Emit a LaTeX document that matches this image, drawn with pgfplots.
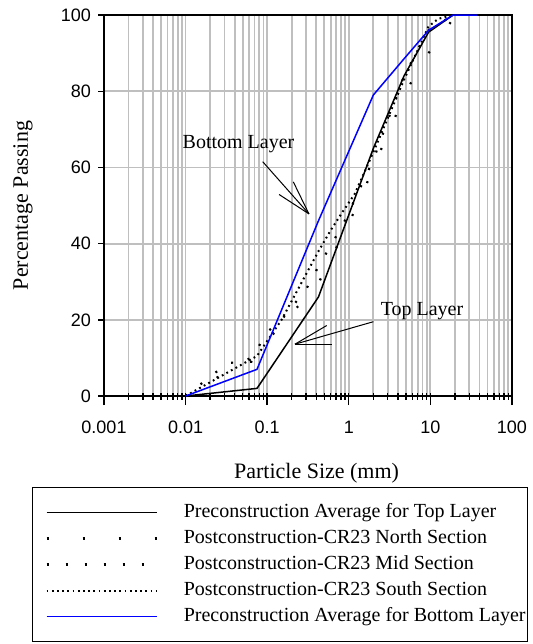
\documentclass[border=0pt]{standalone}
\usepackage{pgfplots}
\pgfplotsset{compat=1.18}
\usepackage{fontspec}
\setmainfont{Liberation Serif}
\newfontfamily\arialfont{Liberation Sans}
\begin{document}
\begin{tikzpicture}
\path[use as bounding box] (0pt,0pt) rectangle (266pt,-322pt);
\begin{axis}[
  at={(52pt,-198pt)}, anchor=south west,
  scale only axis, width=204pt, height=190.5pt,
  xmode=log, log basis x=10,
  xmin=0.001, xmax=100, ymin=0, ymax=100,
  xtick={0.001,0.01,0.1,1,10,100},
  xticklabels={0.001,0.01,0.1,1,10,100},
  minor xtick={0.002,0.003,0.004,0.005,0.006,0.007,0.008,0.009,
               0.02,0.03,0.04,0.05,0.06,0.07,0.08,0.09,
               0.2,0.3,0.4,0.5,0.6,0.7,0.8,0.9,
               2,3,4,5,6,7,8,9,
               20,30,40,50,60,70,80,90},
  extra x ticks={0.001,0.01,0.1,1,10,100},
  extra x tick labels={},
  extra x tick style={xtick align=outside, major tick length=4.5pt, xmajorgrids=false},
  ytick={0,20,40,60,80,100},
  tick pos=left,
  xtick align=center, ytick align=outside,
  major tick length=3pt, minor tick length=3.5pt,
  xmajorgrids, xminorgrids, ymajorgrids,
  grid style={draw=black!25, line width=0.9pt},
  minor grid style={draw=black!25, line width=0.9pt},
  axis line style={line width=0.75pt},
  tick style={black, line width=0.7pt},
  ticklabel style={font=\arialfont\fontsize{9}{10}\selectfont},
  xticklabel style={yshift=-7.5pt},
  /pgf/number format/assume math mode=true,
  xlabel={Particle Size (mm)},
  ylabel={Percentage Passing},
  label style={font=\fontsize{11}{12}\selectfont},
  xlabel style={at={(axis description cs:0.521,-0.202)}, anchor=center},
  ylabel style={at={(axis description cs:-0.1985,0.5)}, anchor=center},
  clip=false,
  legend image code/.code={\path (0pt,-1.6pt); \draw[#1] (5.5pt,0pt) -- (60.5pt,0pt);},
  legend style={
    at={(axis description cs:-0.1765,-0.2388)}, anchor=north west,
    draw=black, line width=0.6pt,
    font=\fontsize{10}{12}\selectfont,
    nodes={inner sep=0pt, text height=7pt, text depth=2pt},
    inner xsep=1pt, inner ysep=8pt,
    row sep=4pt, column sep=13pt,
  },
  legend cell align=left,
]
% Preconstruction average, top layer
\addplot[black, line width=0.75pt] coordinates {
 (0.01,0) (0.075,2) (0.425,26) (2,65) (4.75,84) (9.5,95.5) (19,100) (37.5,100)};
% North section
\addplot[black, line width=1.1pt, dash pattern=on 1pt off 17pt] coordinates {
 (0.01,0) (0.075,11) (0.15,19) (0.25,24) (0.425,29.6) (0.85,42.4) (1.37,51.4)
 (2.09,61) (3.36,71.1) (5.12,80.3) (9.5,90) (19,99) (25,100)};
% Mid section
\addplot[black, line width=1.1pt, dash pattern=on 1pt off 8.5pt] coordinates {
 (0.01,0) (0.033,8.7) (0.064,9) (0.094,16.3) (0.15,20) (0.3,28) (0.425,34)
 (0.85,45) (2,62) (4.75,84) (9.5,96) (19,100)};
% South section
\addplot[black, line width=1pt, dash pattern=on 0.9pt off 1.7pt] coordinates {
 (0.01,0) (0.075,10.5) (0.15,20) (0.3,32) (0.425,38) (0.6,43.5) (0.85,48.5)
 (1.18,53) (2,64) (4.75,83) (9.5,97) (12.5,99) (19,100)};
% Preconstruction average, bottom layer
\addplot[blue, line width=0.75pt] coordinates {
 (0.01,0) (0.075,7) (0.425,46) (2,79) (4.75,88.5) (9.5,96) (19,100) (37.5,100)};
\legend{Preconstruction Average for Top Layer,
        Postconstruction-CR23 North Section,
        Postconstruction-CR23 Mid Section,
        Postconstruction-CR23 South Section,
        Preconstruction Average for Bottom Layer}
% annotations
\draw[black, line width=0.5pt] (axis cs:0.0881,61.5) -- (axis cs:0.325,47.8);
\draw[black, line width=0.5pt] (axis cs:0.209,56.2) -- (axis cs:0.325,47.8);
\draw[black, line width=0.5pt] (axis cs:0.1397,52.9) -- (axis cs:0.325,47.8);
\node[inner sep=0pt, font=\fontsize{10}{12}\selectfont] at (axis cs:0.0445,66.1) {Bottom Layer};
\draw[black, line width=0.5pt] (axis cs:2.0,19.5) -- (axis cs:0.219,13.6);
\draw[black, line width=0.5pt] (axis cs:0.536,18.5) -- (axis cs:0.219,13.6);
\draw[black, line width=0.5pt] (axis cs:0.616,13.6) -- (axis cs:0.219,13.6);
\node[inner sep=0pt, font=\fontsize{10}{12}\selectfont] at (axis cs:7.89,22.2) {Top Layer};
\end{axis}
\end{tikzpicture}
\end{document}
